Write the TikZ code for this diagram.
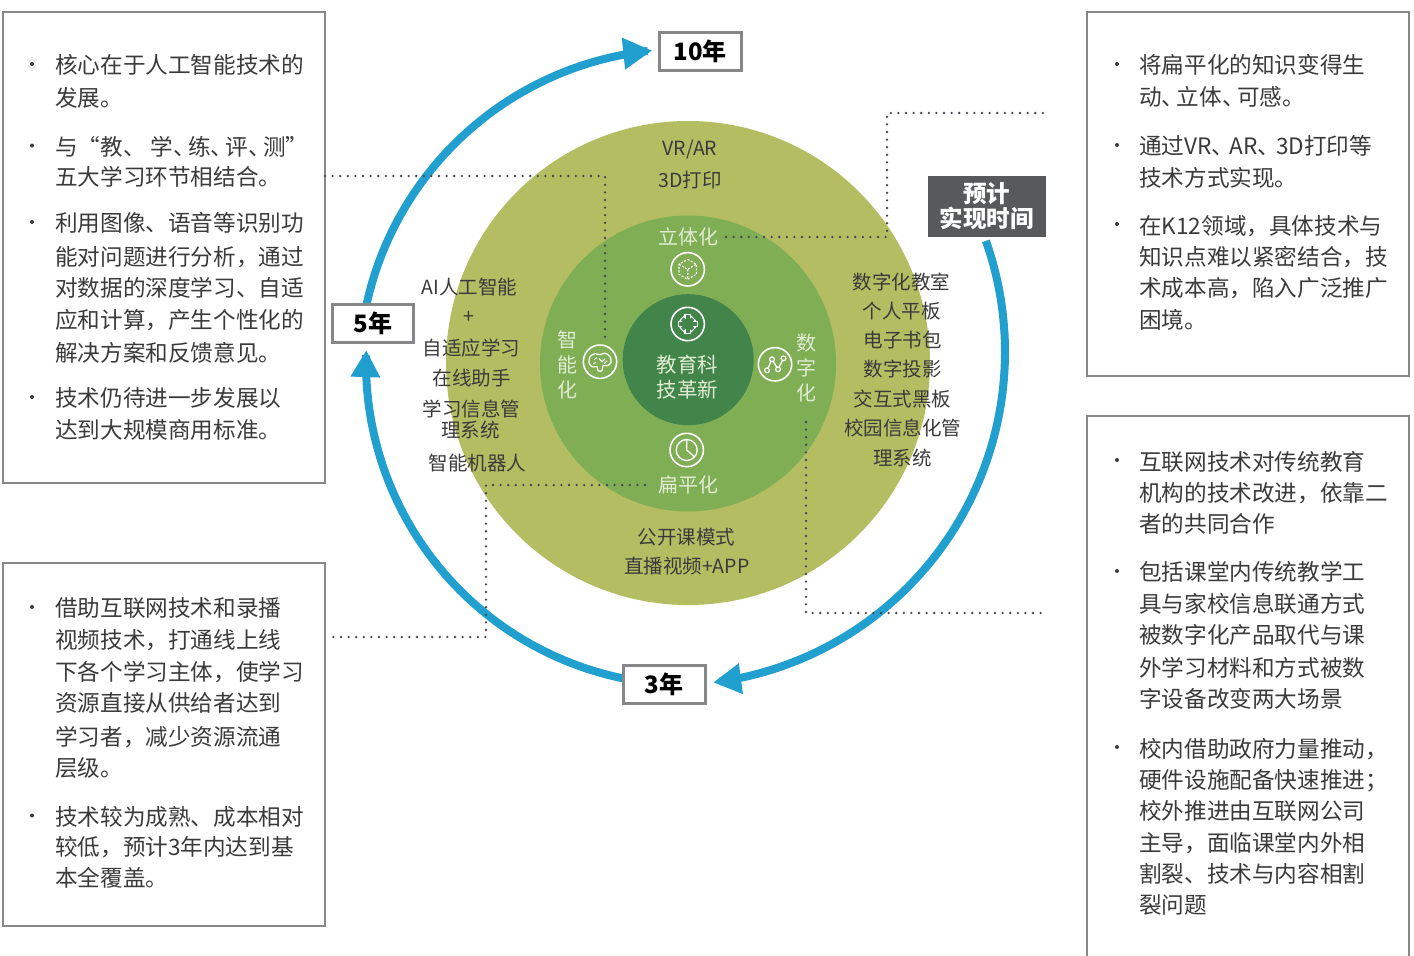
\documentclass[tikz,border=0pt]{standalone}
\usepackage{fontspec}
\setmainfont{Noto Sans CJK SC}
\usetikzlibrary{arrows.meta}
\definecolor{olive}{RGB}{181,189,99}
\definecolor{midgreen}{RGB}{127,174,85}
\definecolor{darkgreen}{RGB}{65,133,74}
\definecolor{skyblue}{RGB}{33,159,206}
\definecolor{boxgray}{RGB}{135,135,138}
\definecolor{labelgray}{RGB}{88,89,91}
\definecolor{txtgray}{RGB}{58,58,58}
\definecolor{pale}{RGB}{225,236,210}
\definecolor{dotgray}{RGB}{70,70,80}
\tikzset{
  body/.style={font=\fontsize{22.6}{27}\selectfont, text=txtgray, inner sep=0pt, anchor=west, text height=18.8pt, text depth=1.6pt},
  ring/.style={font=\fontsize{19.5}{24}\selectfont, text=txtgray, inner sep=0pt, text height=16.2pt, text depth=1.4pt},
  inring/.style={font=\fontsize{20}{25}\selectfont, text=pale, inner sep=0pt, text height=16.6pt, text depth=1.4pt},
  vring/.style={font=\fontsize{20}{25}\selectfont, text=pale, inner sep=0pt, align=center},
  yearbox/.style={draw=boxgray, line width=3pt, fill=white, text=black, font=\bfseries\fontsize{24}{28}\selectfont, minimum width=81pt, minimum height=38pt, inner sep=0pt},
  panel/.style={draw=boxgray, line width=2.5pt, inner sep=0pt},
  dots/.style={dotgray, line width=2.6pt, line cap=round, dash pattern=on 0pt off 7.6pt},
  arcline/.style={skyblue, line width=8pt},
  iconring/.style={circle, draw=white, line width=1.6pt, minimum size=33.4pt, inner sep=0pt},
  ic/.style={white, line width=1.3pt},
}
\newcommand\bodyline[4]{\node[body] (#1) at (#2,#3) {#4};}
\newcommand\bulletdot[2]{\fill[txtgray] (#1,#2) circle (2);}
\newcommand\dunk[1]{、\kern-#1em}
\begin{document}
\begin{tikzpicture}[x=1pt,y=-1pt]
\useasboundingbox (0,0) rectangle (1414,956);

% ---------- rings ----------
\fill[olive] (688,363) circle (242);
\fill[midgreen] (688,363.5) circle (148);
\fill[darkgreen] (688.2,359.7) circle (65.5);

% ---------- panels ----------
\node[panel, minimum width=322pt, minimum height=471pt] (pLT) at (164,247.5) {};
\node[panel, minimum width=322pt, minimum height=363pt] (pLB) at (164,744.5) {};
\node[panel, minimum width=322pt, minimum height=364pt] (pRT) at (1248,194) {};
\draw[boxgray, line width=2.5pt] (1087,960) -- (1087,416) -- (1409,416) -- (1409,960);

% ---------- blue arcs ----------
\draw[arcline, -{Triangle[length=29pt,width=30pt]}] plot[domain=168.5:95.6, samples=90] ({684+325*cos(\x)}, {374-325*sin(\x)});
\draw[arcline, -{Triangle[length=27pt,width=28pt]}] plot[domain=260:177.7, samples=90] ({688+322*cos(\x)}, {363-322*sin(\x)});
\draw[arcline, -{Triangle[length=28pt,width=29pt]}] plot[domain=19.5:-82.9, samples=90] ({672+333*cos(\x)}, {352-333*sin(\x)});

% ---------- year labels ----------
\node[yearbox, minimum width=82pt] (y10) at (700,51) {10年};
\node[yearbox] (y5) at (373.3,323.5) {5年};
\node[yearbox, minimum width=82pt] (y3) at (664,684) {3年};
\node[fill=labelgray, text=white, font=\bfseries\fontsize{23.5}{25}\selectfont, align=center, minimum width=118pt, minimum height=61pt, inner sep=0pt] (ylab) at (986.5,206.3) {预计\\实现时间};

% ---------- inner ring labels ----------
\node[inring] (lt) at (688.3,236.7) {立体化};
\node[inring] (bp) at (688.3,485) {扁平化};
\node[vring] (zn) at (567.3,365) {智\\能\\化};
\node[vring] (sz) at (806,368) {数\\字\\化};
\node[inring, align=center, font=\fontsize{20.5}{25}\selectfont] (core1) at (687.7,365) {教育科};
\node[inring, align=center, font=\fontsize{20.5}{25}\selectfont] (core2) at (687.7,390) {技革新};

% ---------- icons ----------
\node[iconring] (icCube) at (687.7,269.3) {};
\node[iconring] (icStar) at (687.7,324) {};
\node[iconring] (icBrain) at (600,361.7) {};
\node[iconring] (icGraph) at (775,364.3) {};
\node[iconring] (icPie) at (686.7,450) {};

\begin{scope}[shift={(687.7,269.3)}]
  \draw[ic, line width=1.1pt, dash pattern=on 2pt off 1.5pt] (0,-10) -- (8.7,-5) -- (8.7,5) -- (0,10) -- (-8.7,5) -- (-8.7,-5) -- cycle;
  \draw[ic, line width=1.1pt, dash pattern=on 2pt off 1.5pt] (-8.7,-5) -- (0,0) -- (8.7,-5) (0,0) -- (0,10);
\end{scope}

\begin{scope}[shift={(687.7,324)}]
  \foreach \a/\l in {0/10,90/10,45/8.5,135/8.5}{
    \draw[white, line width=6.5pt] (\a:\l) -- (\a+180:\l);
  }
  \foreach \a/\l in {0/8.9,90/8.9,45/7.4,135/7.4}{
    \draw[darkgreen, line width=3.9pt] (\a:\l) -- (\a+180:\l);
  }
\end{scope}

\begin{scope}[shift={(600,361.7)}]
  \draw[ic, line width=1.2pt] plot[smooth cycle, tension=0.6] coordinates {(-11,1) (-10,-5) (-5,-8) (0,-7) (5,-8.5) (10,-5) (11,1) (7,4) (3,4) (2,9) (-2,9) (-3,5) (-8,5)};
  \draw[ic, line width=1pt] (-6,-2) -- (-3,-4) (-1,-3) -- (2,0) -- (5,-3) (4,2) -- (7,-1) (-7,2) -- (-4,1);
\end{scope}

\begin{scope}[shift={(775,364.3)}]
  \draw[ic] (-8,6) -- (-3,-5) -- (3,5) -- (8.5,-6);
  \foreach \p in {(-8,6),(-3,-5),(3,5),(8.5,-6)}{
    \filldraw[fill=midgreen, draw=white, line width=1.2pt] \p circle (2.4);
  }
\end{scope}

\begin{scope}[shift={(686.7,450)}]
  \draw[ic] (0,0) circle (10.5);
  \draw[ic] (0,-10.5) -- (0,0) -- (7.8,7);
\end{scope}

% ---------- outer ring texts ----------
\node[ring] (o1) at (690,148) {VR/AR};
\node[ring] (o2) at (690,180) {3D打印};
\node[ring] (a1) at (469.3,286.7) {AI人工智能};
\node[ring] (a2) at (469.3,316) {+};
\node[ring] (a3) at (471.7,348.3) {自适应学习};
\node[ring] (a4) at (471.7,378.3) {在线助手};
\node[ring] (a5) at (471.7,409.3) {学习信息管};
\node[ring] (a6) at (470.7,430.5) {理系统};
\node[ring] (a7) at (477.3,463.3) {智能机器人};
\node[ring] (r1) at (901.7,281.7) {数字化教室};
\node[ring] (r2) at (901.7,310.7) {个人平板};
\node[ring] (r3) at (902.7,340) {电子书包};
\node[ring] (r4) at (902.7,369.3) {数字投影};
\node[ring] (r5) at (902.7,399) {交互式黑板};
\node[ring] (r6) at (902.7,428.3) {校园信息化管};
\node[ring] (r7) at (902.7,457.7) {理系统};
\node[ring] (b1) at (686.7,537.3) {公开课模式};
\node[ring] (b2) at (686.7,566) {直播视频+APP};

% ---------- dotted connectors ----------
\coordinate (c1a) at (325,176);
\coordinate (c1b) at (605,176);
\coordinate (c1c) at (605,340);
\draw[dots] (c1a) -- (c1b) -- (c1c);
\coordinate (c2a) at (726,237);
\coordinate (c2b) at (887,237);
\coordinate (c2c) at (887,113);
\coordinate (c2d) at (1047,113);
\draw[dots] (c2a) -- (c2b) -- (c2c) -- (c2d);
\coordinate (c3a) at (806,422);
\coordinate (c3b) at (806,613);
\coordinate (c3c) at (1047,613);
\draw[dots] (c3a) -- (c3b) -- (c3c);
\coordinate (c4a) at (645,485);
\coordinate (c4b) at (486,485);
\coordinate (c4c) at (486,637);
\coordinate (c4d) at (327,637);
\draw[dots] (c4a) -- (c4b) -- (c4c) -- (c4d);

% ---------- left top panel ----------
\bulletdot{32}{64}\bulletdot{32}{145.5}\bulletdot{32}{222}\bulletdot{32}{397}
\bodyline{lt1}{55}{65}{核心在于人工智能技术的}
\bodyline{lt2}{55}{98}{发展。}
\bodyline{lt3}{55}{146.5}{与“教、 学\dunk{0.34}练\dunk{0.34}评\dunk{0.34}测”}
\bodyline{lt4}{55}{177}{五大学习环节相结合。}
\bodyline{lt5}{55}{223.3}{利用图像、语音等识别功}
\bodyline{lt6}{55}{256.5}{能对问题进行分析，通过}
\bodyline{lt7}{55}{288.3}{对数据的深度学习、自适}
\bodyline{lt8}{55}{320}{应和计算，产生个性化的}
\bodyline{lt9}{55}{353}{解决方案和反馈意见。}
\bodyline{lt10}{55}{398.3}{技术仍待进一步发展以}
\bodyline{lt11}{55}{430}{达到大规模商用标准。}

% ---------- left bottom panel ----------
\bulletdot{32}{607}\bulletdot{32}{815.5}
\bodyline{lb1}{55}{608.3}{借助互联网技术和录播}
\bodyline{lb2}{55}{640}{视频技术，打通线上线}
\bodyline{lb3}{55}{671.7}{下各个学习主体，使学习}
\bodyline{lb4}{55}{703.3}{资源直接从供给者达到}
\bodyline{lb5}{55}{736.5}{学习者，减少资源流通}
\bodyline{lb6}{55}{768.3}{层级。}
\bodyline{lb7}{55}{816.5}{技术较为成熟、成本相对}
\bodyline{lb8}{55}{846.7}{较低，预计3年内达到基}
\bodyline{lb9}{55}{878.3}{本全覆盖。}

% ---------- right top panel ----------
\bulletdot{1117}{64}\bulletdot{1117}{145}\bulletdot{1117}{224}
\bodyline{rt1}{1139}{65}{将扁平化的知识变得生}
\bodyline{rt2}{1139}{97}{动\dunk{0.33}立体\dunk{0.33}可感。}
\bodyline{rt3}{1139}{146}{通过VR\dunk{0.2}AR\dunk{0.2}3D打印等}
\bodyline{rt4}{1139}{178}{技术方式实现。}
\bodyline{rt5}{1139}{225.5}{在K12领域，具体技术与}
\bodyline{rt6}{1139}{257}{知识点难以紧密结合，技}
\bodyline{rt7}{1139}{288.3}{术成本高，陷入广泛推广}
\bodyline{rt8}{1139}{320}{困境。}

% ---------- right bottom panel ----------
\bulletdot{1117}{460}\bulletdot{1117}{571}\bulletdot{1117}{747}
\bodyline{rb1}{1139}{461.5}{互联网技术对传统教育}
\bodyline{rb2}{1139}{493.3}{机构的技术改进，依靠二}
\bodyline{rb3}{1139}{523.5}{者的共同合作}
\bodyline{rb4}{1139}{572}{包括课堂内传统教学工}
\bodyline{rb5}{1139}{603.5}{具与家校信息联通方式}
\bodyline{rb6}{1139}{635}{被数字化产品取代与课}
\bodyline{rb7}{1139}{667.7}{外学习材料和方式被数}
\bodyline{rb8}{1139}{699.3}{字设备改变两大场景}
\bodyline{rb9}{1139}{748.5}{校内借助政府力量推动，}
\bodyline{rb10}{1139}{780}{硬件设施配备快速推进；}
\bodyline{rb11}{1139}{810.7}{校外推进由互联网公司}
\bodyline{rb12}{1139}{842.5}{主导，面临课堂内外相}
\bodyline{rb13}{1139}{874}{割裂、技术与内容相割}
\bodyline{rb14}{1139}{904.5}{裂问题}
\end{tikzpicture}
\end{document}
